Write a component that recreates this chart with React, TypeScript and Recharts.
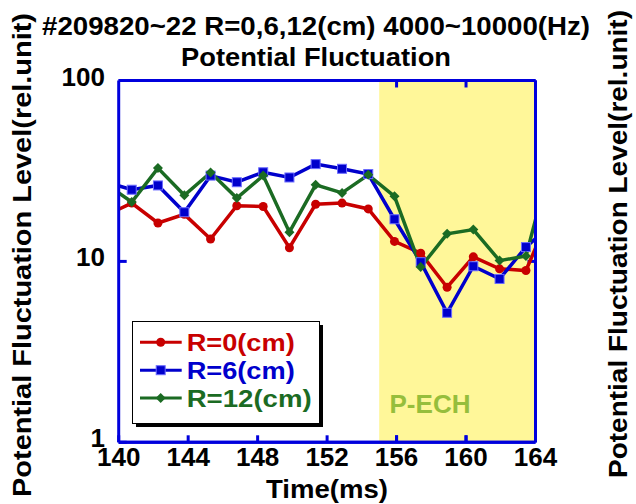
import { Legend, Line, LineChart, ReferenceArea, ReferenceLine, XAxis, YAxis } from "recharts";

const times = [139.24, 140.75, 142.26, 143.78, 145.29, 146.8, 148.32, 149.83, 151.34, 152.86, 154.37, 155.88, 157.39, 158.91, 160.42, 161.93, 163.45, 164.96];
const r0 = [17.9, 21.0, 16.3, 18.2, 13.3, 20.3, 20.1, 11.9, 20.7, 21.0, 19.5, 12.9, 11.1, 7.2, 10.6, 9.1, 8.9, 19.5];
const r6 = [27.5, 24.9, 26.3, 18.7, 29.8, 27.4, 31.1, 29.1, 34.5, 32.5, 30.4, 17.1, 9.9, 5.2, 9.4, 8.0, 12.0, 16.1];
const r12 = [26.9, 21.3, 32.8, 23.2, 31.0, 22.4, 29.8, 14.5, 26.5, 23.9, 30.1, 22.9, 9.3, 14.2, 15.0, 10.1, 10.7, 38.0];

const xTicks = [140, 144, 148, 152, 156, 160, 164];
const yTicks = [1, 10, 100];
const echStart = 155;
const echEnd = 164;
// ticks that fall inside the P-ECH band, redrawn above it
const bandXTicks = [156, 160];

const data = times.map((t, i) => ({ t, r0: r0[i], r6: r6[i], r12: r12[i] }));

const FONT = '"Liberation Sans", Arial, sans-serif';
const AXIS = "#0000dd";
const RED = "#c80000";
const BLUE = "#0000cc";
const GREEN = "#1b6b23";

const series = [
  { key: "r0", name: "R=0(cm)", color: RED, shape: "circle", textLen: 108 },
  { key: "r6", name: "R=6(cm)", color: BLUE, shape: "square", textLen: 108 },
  { key: "r12", name: "R=12(cm)", color: GREEN, shape: "diamond", textLen: 125 },
];

function Marker({ cx, cy, shape, color }: any) {
  if (cx == null || cy == null) return <g />;
  if (shape === "square") {
    return <rect x={cx - 4.5} y={cy - 4.5} width={9} height={9} fill={color} stroke="#6b6bff" strokeWidth={1} />;
  }
  if (shape === "diamond") {
    return <polygon points={`${cx},${cy - 5} ${cx + 5},${cy} ${cx},${cy + 5} ${cx - 5},${cy}`} fill={color} />;
  }
  return <circle cx={cx} cy={cy} r={4.5} fill={color} />;
}

function XTick({ x, y, payload }: any) {
  return (
    <text x={x} y={y + 24} textAnchor="middle" fontFamily={FONT} fontWeight="bold" fontSize={26} fill="#000">
      {payload.value}
    </text>
  );
}

function YTick({ x, y, payload }: any) {
  return (
    <text x={x - 13.7} y={y + 5} textAnchor="end" fontFamily={FONT} fontWeight="bold" fontSize={26} fill="#000">
      {payload.value}
    </text>
  );
}

function LegendBox() {
  return (
    <svg width={200} height={112} style={{ display: "block" }}>
      <rect x={4} y={4} width={187} height={102} fill="#000" />
      <rect x={0.5} y={0.5} width={187} height={102} fill="#fff" stroke="#000" strokeWidth={1} />
      {series.map((s, i) => {
        const y = 21.3 + i * 27.9;
        return (
          <g key={s.key}>
            <line x1={8} x2={49.7} y1={y} y2={y} stroke={s.color} strokeWidth={3} />
            <Marker cx={28.7} cy={y} shape={s.shape} color={s.color} />
            <text
              x={54.7}
              y={y + 8.5}
              fontFamily={FONT}
              fontWeight="bold"
              fontSize={24}
              fill={s.color}
              textLength={s.textLen}
              lengthAdjust="spacingAndGlyphs"
            >
              {s.name}
            </text>
          </g>
        );
      })}
    </svg>
  );
}

const frame = { stroke: AXIS, strokeWidth: 3 };

export default function App() {
  const labelStyle = { fontFamily: FONT, fontWeight: "bold" as const };
  return (
    <div style={{ position: "absolute", left: 0, top: 0, width: 636, height: 504, background: "#fff" }}>
      <LineChart width={636} height={504} data={data} margin={{ top: 79.5, right: 99.5, bottom: 60.7, left: 117.7 }}>
        <ReferenceArea x1={echStart} x2={echEnd} fill="#fff799" fillOpacity={1} stroke="none" zIndex={-1} />
        {/* frame lines and inward ticks redrawn on top of the P-ECH band */}
        <ReferenceLine x={164} {...frame} />
        <ReferenceLine y={100} {...frame} />
        <ReferenceLine y={1} {...frame} />
        {bandXTicks.map((t) => (
          <ReferenceLine key={`b${t}`} segment={[{ x: t, y: 1 }, { x: t, y: 1.093 }]} {...frame} />
        ))}
        {bandXTicks.map((t) => (
          <ReferenceLine key={`t${t}`} segment={[{ x: t, y: 100 }, { x: t, y: 91.5 }]} {...frame} />
        ))}
        <ReferenceLine segment={[{ x: 164, y: 10 }, { x: 163.54, y: 10 }]} {...frame} />
        {series.map((s) => (
          <Line
            key={s.key}
            type="linear"
            dataKey={s.key}
            stroke={s.color}
            strokeWidth={3.5}
            isAnimationActive={false}
            dot={(p: any) => <Marker key={`${s.key}-${p.index}`} cx={p.cx} cy={p.cy} shape={s.shape} color={s.color} />}
            activeDot={false}
          />
        ))}
        <XAxis
          dataKey="t"
          type="number"
          domain={[140, 164]}
          ticks={xTicks}
          allowDataOverflow
          height={1}
          tickSize={-7}
          tickMargin={7}
          tick={<XTick />}
          axisLine={frame}
          tickLine={frame}
          interval={0}
        />
        <XAxis
          xAxisId="top"
          orientation="top"
          dataKey="t"
          type="number"
          domain={[140, 164]}
          ticks={xTicks}
          allowDataOverflow
          height={1}
          tickSize={-7}
          tick={false}
          axisLine={frame}
          tickLine={frame}
          interval={0}
        />
        <YAxis
          type="number"
          scale="log"
          domain={[1, 100]}
          ticks={yTicks}
          allowDataOverflow
          width={1}
          tickSize={-8}
          tickMargin={8}
          tick={<YTick />}
          axisLine={frame}
          tickLine={frame}
          interval={0}
        />
        <YAxis
          yAxisId="right"
          orientation="right"
          type="number"
          scale="log"
          domain={[1, 100]}
          ticks={yTicks}
          allowDataOverflow
          width={1}
          tickSize={-8}
          tick={false}
          axisLine={frame}
          tickLine={frame}
          interval={0}
        />
        <Legend
          layout="vertical"
          align="center"
          verticalAlign="middle"
          content={() => <LegendBox />}
          wrapperStyle={{ left: 132, top: 321, width: 200, height: 112 }}
        />
      </LineChart>
      <svg width={636} height={504} style={{ position: "absolute", left: 0, top: 0, pointerEvents: "none" }}>
        <text x={316} y={35} textAnchor="middle" fontSize={25.5} textLength={548} lengthAdjust="spacingAndGlyphs" style={labelStyle}>
          #209820~22 R=0,6,12(cm) 4000~10000(Hz)
        </text>
        <text x={316} y={66} textAnchor="middle" fontSize={25.5} textLength={270} lengthAdjust="spacingAndGlyphs" style={labelStyle}>
          Potential Fluctuation
        </text>
        <text x={327} y={498} textAnchor="middle" fontSize={26} textLength={122} lengthAdjust="spacingAndGlyphs" style={labelStyle}>
          Time(ms)
        </text>
        <text
          x={0}
          y={0}
          transform="translate(31,255) rotate(-90)"
          textAnchor="middle"
          fontSize={26}
          textLength={484}
          lengthAdjust="spacingAndGlyphs"
          style={labelStyle}
        >
          Potential Fluctuation Level(rel.unit)
        </text>
        <text
          x={0}
          y={0}
          transform="translate(627,244) rotate(-90)"
          textAnchor="middle"
          fontSize={26}
          textLength={468}
          lengthAdjust="spacingAndGlyphs"
          style={labelStyle}
        >
          Potential Fluctuation Level(rel.unit)
        </text>
        <text x={389.5} y={413} fontSize={26} fill="#96be3c" textLength={81} lengthAdjust="spacingAndGlyphs" style={labelStyle}>
          P-ECH
        </text>
      </svg>
    </div>
  );
}
